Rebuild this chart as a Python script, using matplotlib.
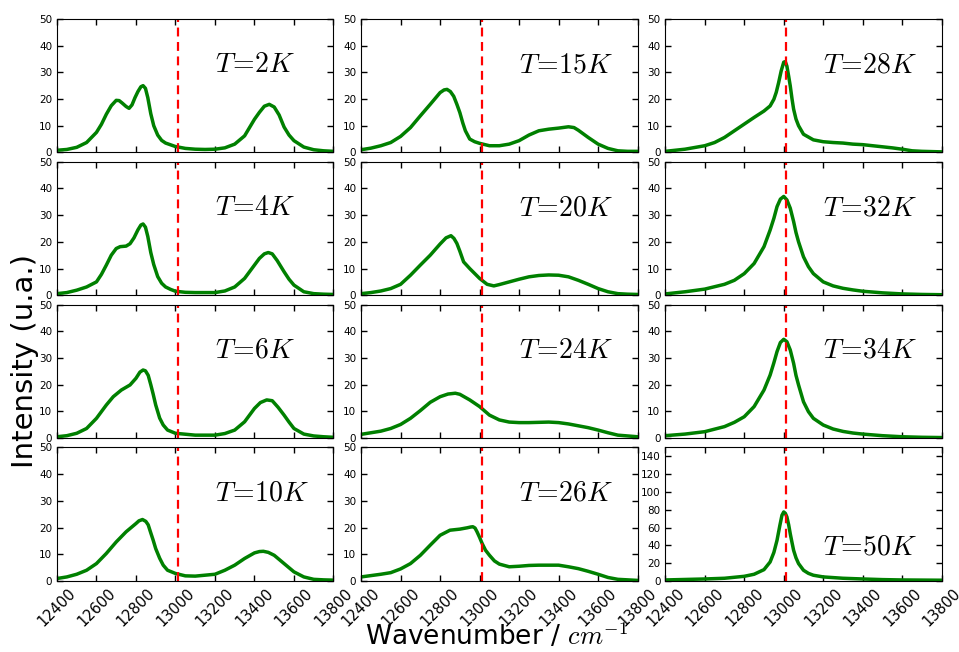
import matplotlib
matplotlib.use("Agg")
import matplotlib.pyplot as plt

plt.rcParams['mathtext.fontset'] = 'cm'

temps = ["2", "4", "6", "10", "15", "20", "24", "26", "28", "32", "34", "50"]
line_pos = 13012

# spectra, one (x, y) pair per panel
x_2K = [12400, 12450, 12500, 12550, 12600, 12625, 12650, 12675, 12700, 12715, 12730, 12750, 12765, 12780, 12795, 12810,
        12825, 12836, 12848, 12860, 12875, 12890, 12910, 12930, 12950, 13000, 13050, 13100, 13150, 13200, 13250, 13300,
        13350, 13400, 13425, 13450, 13475, 13500, 13525, 13550, 13575, 13600, 13650, 13700, 13750, 13800]
y_2K = [0.8, 1.1, 1.9, 3.7, 7.5, 10.5, 14.3, 17.5, 19.5, 19.4, 18.5, 17.2, 16.5, 17.8, 20.5, 22.8,
        24.6, 25.0, 24.0, 20.5, 14.5, 10.0, 6.5, 4.5, 3.5, 2.2, 1.5, 1.2, 1.1, 1.2, 1.7, 3.1,
        6.2, 12.4, 15.0, 17.3, 18.0, 17.0, 14.0, 9.5, 6.5, 4.4, 2.0, 1.0, 0.6, 0.4]

x_4K = [12400, 12450, 12500, 12550, 12600, 12625, 12650, 12675, 12700, 12720, 12750, 12770, 12790, 12810, 12825, 12836,
        12848, 12860, 12875, 12890, 12910, 12930, 12950, 12975, 13000, 13050, 13100, 13150, 13200, 13250, 13300, 13350,
        13400, 13425, 13450, 13470, 13490, 13515, 13550, 13575, 13600, 13650, 13700, 13750, 13800]
y_4K = [0.6, 1.0, 1.9, 3.1, 5.0, 7.8, 11.3, 15.0, 17.5, 18.2, 18.4, 19.3, 21.5, 24.5, 26.3, 26.7,
        25.5, 22.0, 16.0, 11.5, 7.0, 4.5, 3.1, 2.2, 1.5, 1.1, 1.0, 1.0, 1.0, 1.6, 3.1, 6.3,
        11.3, 13.8, 15.5, 16.0, 15.5, 13.0, 8.8, 6.0, 3.8, 1.3, 0.6, 0.4, 0.3]

x_6K = [12400, 12450, 12500, 12550, 12600, 12650, 12685, 12726, 12770, 12800, 12820, 12836, 12848, 12862, 12875, 12887,
        12900, 12920, 12938, 12960, 13000, 13100, 13200, 13250, 13300, 13350, 13400, 13430, 13462, 13490, 13520, 13550,
        13575, 13600, 13650, 13700, 13750, 13800]
y_6K = [0.5, 0.9, 1.8, 3.6, 7.4, 12.4, 15.5, 18.0, 19.9, 22.4, 24.7, 25.5, 25.2, 23.5, 20.0, 16.5,
        12.4, 7.5, 4.9, 3.0, 1.8, 1.1, 1.1, 1.7, 3.0, 6.1, 11.1, 13.3, 14.3, 14.0, 11.5, 8.6,
        6.0, 3.6, 1.5, 0.8, 0.5, 0.3]

x_10K = [12400, 12450, 12500, 12550, 12600, 12650, 12700, 12750, 12800, 12815, 12833, 12850, 12862, 12875, 12887, 12900,
         12920, 12938, 12960, 13000, 13050, 13100, 13200, 13250, 13300, 13350, 13400, 13425, 13445, 13470, 13500, 13550,
         13600, 13650, 13700, 13750, 13800]
y_10K = [0.9, 1.5, 2.5, 4.0, 6.5, 10.3, 14.6, 18.4, 21.5, 22.5, 23.0, 22.3, 21.0, 18.0, 15.3, 12.1,
         8.5, 5.9, 4.0, 2.8, 1.9, 1.8, 2.5, 4.0, 5.9, 8.4, 10.5, 11.0, 11.1, 10.7, 9.6, 6.5,
         3.4, 1.5, 0.6, 0.4, 0.3]

x_15K = [12400, 12450, 12500, 12550, 12600, 12650, 12700, 12750, 12800, 12820, 12835, 12852, 12869, 12885, 12900, 12915,
         12928, 12950, 12975, 13000, 13050, 13100, 13150, 13200, 13250, 13300, 13350, 13400, 13450, 13478, 13500, 13550,
         13600, 13650, 13700, 13750, 13800]
y_15K = [1.0, 1.6, 2.5, 3.7, 6.0, 9.3, 13.7, 18.0, 22.4, 23.4, 23.6, 22.8, 21.0, 18.0, 14.9, 11.0,
         8.1, 5.0, 4.0, 3.4, 2.5, 2.5, 3.1, 4.4, 6.5, 8.1, 8.7, 9.1, 9.6, 9.3, 8.3, 5.6,
         3.1, 1.5, 0.6, 0.4, 0.4]

x_20K = [12400, 12450, 12500, 12550, 12600, 12650, 12700, 12750, 12800, 12830, 12855, 12870, 12885, 12900, 12919, 12950,
         13000, 13038, 13072, 13100, 13150, 13200, 13250, 13300, 13350, 13400, 13450, 13500, 13550, 13600, 13650, 13700,
         13750, 13800]
y_20K = [0.6, 1.0, 1.6, 2.5, 4.1, 7.5, 11.3, 15.0, 19.2, 21.5, 22.3, 21.3, 19.4, 16.5, 12.5, 10.0,
         6.3, 4.1, 3.5, 4.0, 5.0, 6.0, 6.9, 7.4, 7.6, 7.5, 6.9, 5.6, 4.1, 2.5, 1.3, 0.6,
         0.4, 0.3]

x_24K = [12400, 12450, 12500, 12550, 12600, 12650, 12700, 12750, 12800, 12840, 12877, 12900, 12950,
         13000, 13050, 13100, 13150, 13200, 13250, 13300, 13350, 13400, 13450, 13500, 13550, 13600, 13650, 13700, 13750, 13800]
y_24K = [1.4, 2.0, 2.6, 3.6, 5.1, 7.4, 10.3, 13.4, 15.5, 16.5, 16.8, 16.4, 14.3,
         11.8, 8.6, 6.8, 6.0, 5.8, 5.8, 5.9, 6.0, 5.8, 5.3, 4.6, 3.9, 3.0, 2.0, 1.1, 0.8, 0.5]

x_26K = [12400, 12450, 12500, 12550, 12600, 12650, 12700, 12750, 12800, 12850, 12900, 12937, 12955, 12966, 12977, 12987,
         13000, 13013, 13030, 13050, 13075, 13100, 13150, 13200, 13250, 13300, 13350, 13400, 13450, 13500, 13550, 13600,
         13650, 13700, 13750, 13800]
y_26K = [1.5, 2.0, 2.5, 3.1, 4.5, 6.5, 9.6, 13.4, 17.1, 19.0, 19.4, 19.9, 20.2, 20.3, 19.8, 18.4,
         16.3, 14.0, 11.5, 9.6, 7.5, 6.3, 5.3, 5.5, 5.8, 5.9, 5.9, 5.9, 5.3, 4.6, 3.6, 2.5,
         1.3, 0.6, 0.4, 0.2]

x_28K = [12400, 12500, 12600, 12650, 12700, 12750, 12800, 12850, 12900, 12931, 12950, 12962, 12974, 12987, 13000, 13008,
         13016, 13025, 13033, 13042, 13050, 13062, 13075, 13100, 13150, 13200, 13250, 13300, 13350, 13400, 13450, 13500,
         13550, 13600, 13650, 13700, 13800]
y_28K = [0.4, 1.2, 2.5, 3.7, 5.6, 8.1, 10.6, 13.1, 15.5, 17.4, 19.9, 22.5, 26.1, 30.5, 33.8, 34.0,
         32.3, 28.5, 24.9, 20.0, 16.2, 12.5, 10.0, 6.8, 4.7, 4.0, 3.7, 3.5, 3.1, 2.9, 2.5, 2.1,
         1.7, 1.2, 0.6, 0.4, 0.2]

x_32K = [12400, 12500, 12600, 12700, 12750, 12800, 12850, 12900, 12931, 12950, 12966, 12983, 13000, 13016, 13033, 13050,
         13062, 13075, 13100, 13125, 13150, 13200, 13250, 13300, 13350, 13400, 13500, 13600, 13700, 13800]
y_32K = [0.5, 1.3, 2.3, 4.1, 5.6, 8.1, 11.9, 18.2, 24.4, 28.8, 33.2, 36.0, 37.0, 35.7, 32.6, 27.6,
         23.5, 20.0, 14.4, 10.7, 8.1, 5.0, 3.5, 2.6, 2.0, 1.5, 0.9, 0.5, 0.3, 0.2]

x_34K = [12400, 12500, 12600, 12700, 12750, 12800, 12850, 12900, 12931, 12950, 12966, 12983, 13000, 13016, 13033, 13050,
         13062, 13075, 13100, 13125, 13150, 13200, 13250, 13300, 13350, 13400, 13500, 13600, 13700, 13800]
y_34K = [0.9, 1.5, 2.4, 4.3, 5.9, 8.0, 11.8, 18.0, 23.6, 28.2, 32.4, 35.8, 37.0, 36.1, 33.0, 28.0,
         23.5, 19.9, 13.6, 9.9, 7.4, 4.9, 3.4, 2.5, 1.9, 1.5, 0.9, 0.5, 0.3, 0.2]

x_50K = [12400, 12600, 12700, 12800, 12850, 12900, 12931, 12950, 12966, 12980, 12991, 13000, 13008, 13016, 13025, 13033,
         13042, 13050, 13062, 13075, 13100, 13125, 13150, 13200, 13300, 13400, 13500, 13600, 13800]
y_50K = [1.1, 2.2, 3.0, 5.2, 7.5, 12.7, 21.3, 32.0, 45.7, 62.0, 73.8, 77.5, 76.0, 71.9, 63.0, 53.0,
         43.0, 34.4, 26.0, 19.5, 12.0, 8.5, 6.4, 4.5, 3.0, 2.2, 1.5, 1.1, 0.8]

# panels are filled column by column
spectra = [(x_2K, y_2K), (x_4K, y_4K), (x_6K, y_6K), (x_10K, y_10K),
           (x_15K, y_15K), (x_20K, y_20K), (x_24K, y_24K), (x_26K, y_26K),
           (x_28K, y_28K), (x_32K, y_32K), (x_34K, y_34K), (x_50K, y_50K)]
xticks = [12400, 12600, 12800, 13000, 13200, 13400, 13600, 13800]

fig, axes = plt.subplots(4, 3, figsize=(9.59, 6.52), dpi=100, sharex=True)
fig.subplots_adjust(left=0.0594, right=0.982, top=0.971, bottom=0.109, hspace=0.07, wspace=0.10)

for i, (T, (xs, ys)) in enumerate(zip(temps, spectra)):
    ax = axes[i % 4, i // 4]
    ax.plot(xs, ys, color=(0, 0.5, 0), lw=2.5)
    ax.axvline(line_pos, color='r', ls='--', lw=1.6, dashes=(4, 2.5))
    ax.set_xlim(12400, 13800)
    if T == "50":
        ax.set_ylim(0, 150)
        ax.set_yticks(range(0, 141, 20))
    else:
        ax.set_ylim(0, 50)
        ax.set_yticks(range(0, 51, 10))
    ax.set_xticks(xticks)
    ax.text(13200, 30, r'$T\!=\!%sK$' % T, fontsize=20)
    ax.tick_params(direction='in', top=True, right=True, length=4, width=1, labelsize=7.5)
    ax.tick_params(axis='x', labelsize=10.5, labelrotation=45)

fig.text(25 / 959, 1 - 361 / 652, 'Intensity (u.a.)', rotation=90, fontsize=21, ha='center', va='center')
fig.text(497 / 959, 0.01, r'Wavenumber / $cm^{-1}$', fontsize=19, ha='center', va='baseline')

fig.savefig('out.png', dpi=100)
